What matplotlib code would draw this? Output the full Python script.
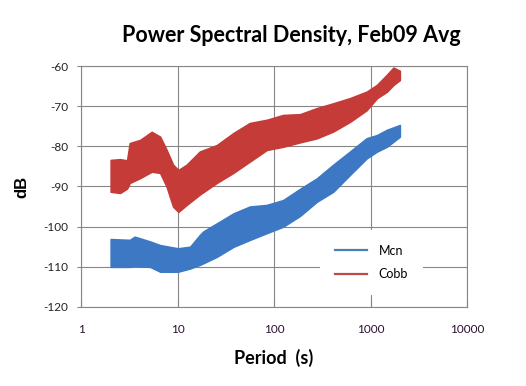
import matplotlib
matplotlib.use("Agg")
import matplotlib.pyplot as plt
from matplotlib.lines import Line2D

# Cobb (red) band: period (s), upper and lower envelope (dB)
cobb_period = [2.03, 2.54, 3.0, 3.2, 4.1, 5.4, 6.6, 7.7, 9.0, 10.2, 12.4, 17, 25.5,
               37.9, 56, 84, 124, 186, 277, 410, 612, 910, 1165, 1474, 1725, 2010]
cobb_upper = [-83.4, -83.2, -83.5, -79.2, -78.4, -76.4, -77.6, -80.9, -84.6, -85.9, -84.6,
              -81.3, -79.7, -76.7, -74.2, -73.4, -72.2, -72.0, -70.5, -69.3, -68.0, -66.4,
              -64.7, -62.2, -60.4, -61.2]
cobb_lower = [-91.3, -91.6, -90.5, -89.1, -87.9, -86.3, -86.6, -90.0, -95.0, -96.3, -94.6,
              -92.0, -89.1, -86.6, -83.8, -80.9, -80.1, -79.0, -78.0, -76.3, -73.9, -71.0,
              -68.0, -66.4, -64.7, -63.5]

# Mcn (blue) band
mcn_period = [2.03, 3.2, 3.6, 5.2, 6.6, 10.1, 13.5, 17, 18.5, 25.5, 38, 56, 84, 124, 186,
              277, 410, 612, 910, 1165, 1474, 2010]
mcn_upper = [-103.1, -103.3, -102.5, -103.7, -104.6, -105.4, -105.0, -102.1, -101.2, -99.2,
             -96.7, -95.0, -94.6, -93.4, -90.6, -88.0, -84.6, -81.3, -78.0, -77.2, -75.9,
             -74.7]
mcn_lower = [-110.0, -110.0, -109.8, -110.0, -111.2, -111.2, -110.4, -109.5, -109.1, -107.5,
             -105.0, -103.3, -101.6, -100.0, -97.3, -93.8, -91.3, -87.1, -83.0, -81.3, -80.1,
             -77.6]

x_ticks = [1, 10, 100, 1000, 10000]
y_ticks = [-120, -110, -100, -90, -80, -70, -60]

RED = "#C43B37"
BLUE = "#3C78C3"
GRID = "#868686"

fig = plt.figure(figsize=(5.26, 3.86), dpi=100)
ax = fig.add_axes([0.154, 0.2047, 0.734, 0.6243])

ax.fill_between(mcn_period, mcn_lower, mcn_upper, color=BLUE, linewidth=1.2,
                edgecolor=BLUE, zorder=3)
ax.fill_between(cobb_period, cobb_lower, cobb_upper, color=RED, linewidth=1.2,
                edgecolor=RED, zorder=3)

ax.set_xscale("log")
ax.set_xlim(1, 10000)
ax.set_ylim(-120, -60)
ax.set_xticks(x_ticks)
ax.set_xticklabels([str(t) for t in x_ticks], family="Lato")
ax.set_yticks(y_ticks)
ax.set_yticklabels([str(t) for t in y_ticks], family="Lato")
ax.minorticks_off()

ax.grid(True, color=GRID, linewidth=0.8, zorder=1)
ax.set_axisbelow(True)
for s in ax.spines.values():
    s.set_color(GRID)
    s.set_linewidth(0.8)

ax.tick_params(axis="y", direction="out", length=3, width=0.8, color=GRID,
               pad=6, labelsize=8.5, labelcolor="#222222")
ax.tick_params(axis="x", direction="in", length=5, width=0.8, color=GRID,
               pad=12, labelsize=8.5, labelcolor="#2a1030")

ax.set_title("Power Spectral Density, Feb09 Avg", family="Lato", fontweight="bold",
             fontsize=15.5, x=0.545, pad=17)
ax.set_xlabel("Period  (s)", family="Lato", fontweight="bold", fontsize=13, labelpad=10)
ax.set_ylabel("dB", family="Liberation Sans", fontweight="bold", fontsize=12, labelpad=10)

handles = [Line2D([], [], color="#4A7EBB", linewidth=1.6),
           Line2D([], [], color="#BE4B48", linewidth=1.6)]
leg = ax.legend(handles, ["Mcn", "Cobb"], loc="upper left",
                bbox_to_anchor=(0.619, 0.32), frameon=True, fancybox=False,
                framealpha=1, edgecolor="none", facecolor="white",
                handlelength=2.6, handletextpad=0.9,
                labelspacing=0.9, borderpad=1.2, borderaxespad=0,
                prop={"family": "Lato", "size": 9})
leg.set_zorder(5)

fig.savefig("out.png", dpi=100)
